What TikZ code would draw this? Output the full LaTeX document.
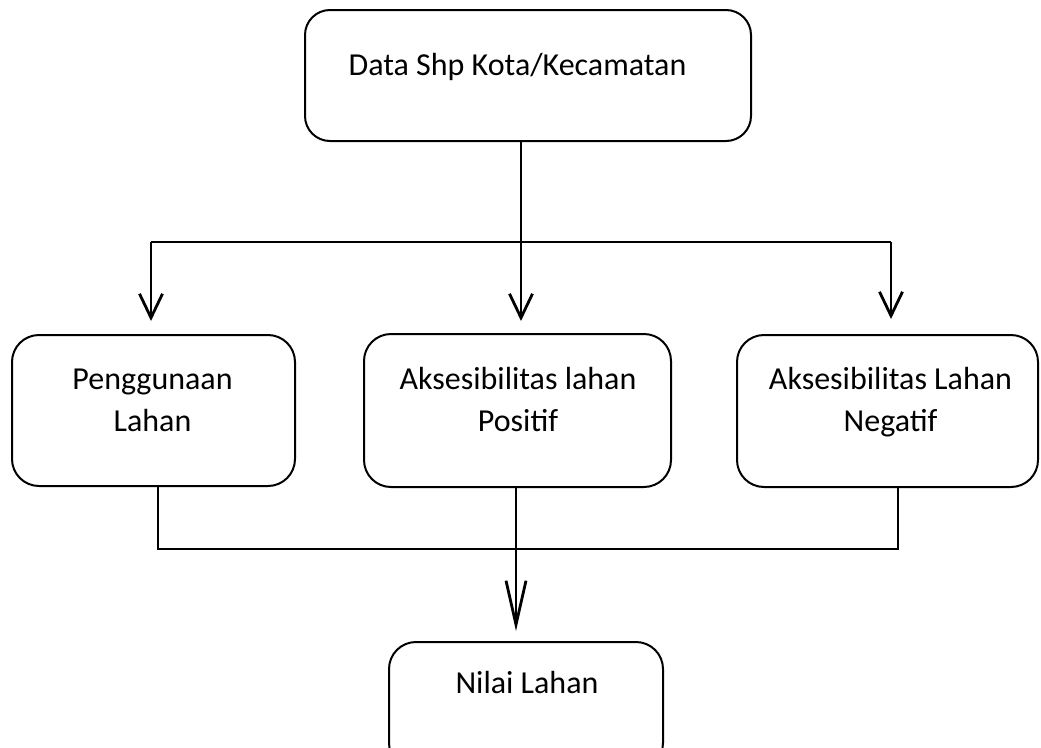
\documentclass[tikz,border=0pt]{standalone}
\usepackage{fontspec}
\setmainfont{Carlito}
\usetikzlibrary{arrows.meta}
\tikzset{
  box/.style={draw, line width=2pt, rounded corners=27pt, inner sep=0pt},
  lbl/.style={anchor=base, inner sep=0pt, font=\fontsize{32}{42}\selectfont},
  thinline/.style={line width=1.1pt},
  conn/.style={line width=1.4pt},
  arr/.style={line width=2.8pt, -{Straight Barb[length=24pt,width=23pt,line width=2.8pt]}},
  arrlong/.style={line width=2.8pt, -{Straight Barb[length=44pt,width=20pt,line width=2.8pt]}}
}
\begin{document}
\begin{tikzpicture}[x=1pt,y=-1pt]
\useasboundingbox (0,0) rectangle (1041,747);
\begin{scope}
\clip (0,0) rectangle (1041,747);
% boxes
\node[box, minimum width=446pt, minimum height=131pt, rounded corners=25pt] (top) at (528,75.5) {};
\node[box, minimum width=283pt, minimum height=151pt] (pl) at (153.5,410.5) {};
\node[box, minimum width=307pt, minimum height=153pt] (al) at (517.5,410.5) {};
\node[box, minimum width=301pt, minimum height=152pt] (an) at (887.5,411) {};
\node[box, minimum width=274pt, minimum height=128pt] (nl) at (526,706) {};
% texts
\node[lbl] (t1) at (517.5,75) {Data Shp Kota/Kecamatan};
\node[lbl] (t2a) at (152.5,389) {Penggunaan};
\node[lbl] (t2b) at (152.5,431) {Lahan};
\node[lbl] (t3a) at (518,389) {Aksesibilitas lahan};
\node[lbl] (t3b) at (518,431) {Positif};
\node[lbl] (t4a) at (890.5,389) {Aksesibilitas Lahan};
\node[lbl] (t4b) at (890.5,431) {Negatif};
\node[lbl] (t5) at (527,693) {Nilai Lahan};
% junctions
\coordinate (jm) at (521,242);
\coordinate (jl) at (151,242);
\coordinate (jr) at (891,242);
\coordinate (bl) at (158,549);
\coordinate (bm) at (516,549);
\coordinate (br) at (898,549);
% top connectors
\draw[thinline] (top.south -| jm) -- (jm);
\draw[conn] (jl) -- (jr);
\draw[arr, shorten >=13pt] (jl) -- (jl |- pl.north);
\draw[arr, shorten >=12pt] (jm) -- (jm |- al.north);
\draw[arr, shorten >=15pt] (jr) -- (jr |- an.north);
% bottom connectors
\draw[conn] (bl |- pl.south) -- (bl) -- (br) -- (br |- an.south);
\draw[arrlong, shorten >=10pt] (bm |- al.south) -- (bm |- nl.north);
\end{scope}
\end{tikzpicture}
\end{document}
